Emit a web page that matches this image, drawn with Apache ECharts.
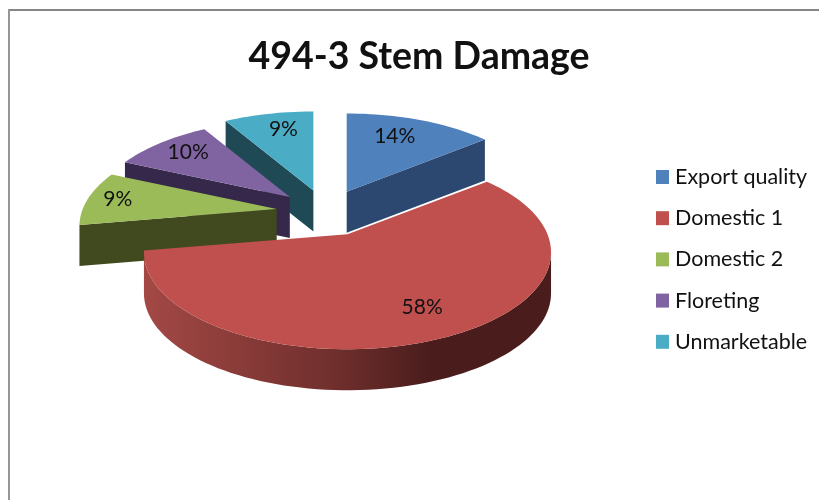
<!DOCTYPE html>
<html>
<head>
<meta charset="utf-8">
<style>
  html, body { margin: 0; padding: 0; background: #fff; }
  #chart { width: 819px; height: 500px; }
</style>
<script src="https://cdn.jsdelivr.net/npm/echarts@6/dist/echarts.min.js"></script>
</head>
<body>
<div id="chart"></div>
<script>
var categories = ['Export quality', 'Domestic 1', 'Domestic 2', 'Floreting', 'Unmarketable'];
var shares = [14.2, 58.1, 9.4, 9.8, 8.5];

// styles, one per slice
var topColors = ['#4F81BD', '#C0504D', '#9BBB59', '#8064A2', '#4BACC6'];
var sideColors = ['#2C4770', '#4A1D1C', '#41491F', '#36284A', '#1F4A55'];
var drawOrder = [3, 5, 2, 1, 0]; // slice z: back slices first
var rimScale = [0.99, 1, 0.97, 0.97, 1];
var labelRadius = [0.7, 0.75, 0.8, 0.72, 0.68];
var labelShift = [[-6, 0], [4, 3], [-3, 2], [-3, 0], [2, -3]];

// pie layout, perspective fit to the picture
var centerX = 326, centerY = 212;
var radiusX = 200, radiusY = 93.6, tilt = 0.186, depth = 41, explode = 0.25;

function project(u, v) {
    var s = 1 / (1 + tilt * v);
    return [radiusX * u * s, -radiusY * v * s];
}
function polar(r, deg) {
    var a = deg * Math.PI / 180;
    return project(r * Math.sin(a), r * Math.cos(a));
}

var redSide = new echarts.graphic.LinearGradient(145, 0, 551, 0, [
    { offset: 0, color: '#A34845' },
    { offset: 0.48, color: '#6E2E2C' },
    { offset: 0.7, color: '#4A1D1C' },
    { offset: 1, color: '#4A1D1C' }
], true);

var total = shares.reduce(function (a, b) { return a + b; }, 0);

function sliceRenderer(index) {
    return function (params, api) {
        var before = 0;
        for (var i = 0; i < index; i++) before += shares[i];
        var start = before / total * 360;
        var end = (before + api.value(0)) / total * 360;
        var mid = (start + end) / 2;

        var off = polar(explode, mid);
        var ax = centerX + off[0], ay = centerY + off[1];
        var outline = [[ax, ay]];
        for (var d = start; d < end; d += 2) {
            var p = polar(rimScale[index], d);
            outline.push([ax + p[0], ay + p[1]]);
        }
        var e = polar(rimScale[index], end);
        outline.push([ax + e[0], ay + e[1]]);

        // side walls: a run of boundary edges going right to left faces the viewer
        var children = [];
        var run = [];
        function flush() {
            if (run.length > 1) {
                var low = run.map(function (q) { return [q[0], q[1] + depth]; }).reverse();
                children.push({
                    type: 'polygon',
                    shape: { points: run.concat(low) },
                    style: { fill: index === 1 ? redSide : sideColors[index] }
                });
            }
            run = [];
        }
        for (var j = 0; j < outline.length; j++) {
            var p1 = outline[j], p2 = outline[(j + 1) % outline.length];
            if (p2[0] < p1[0]) {
                if (!run.length) run.push(p1);
                run.push(p2);
            } else {
                flush();
            }
        }
        flush();

        children.push({
            type: 'polygon',
            shape: { points: outline },
            style: { fill: topColors[index] }
        });
        var l = polar(labelRadius[index], mid);
        children.push({
            type: 'text',
            style: {
                text: Math.round(api.value(0)) + '%',
                x: ax + l[0] + labelShift[index][0], y: ay + l[1] - 3 + labelShift[index][1],
                align: 'center', verticalAlign: 'middle',
                font: '21px Lato',
                fill: '#111'
            }
        });
        return { type: 'group', children: children };
    };
}

var series = categories.map(function (name, i) {
    return {
        name: name,
        type: 'custom',
        coordinateSystem: 'none',
        z: drawOrder[i] + 2,
        itemStyle: { color: topColors[i] },
        renderItem: sliceRenderer(i),
        data: [[shares[i]]]
    };
});

var myChart = echarts.init(document.getElementById('chart'), null, { renderer: 'canvas' });
myChart.setOption({
    animation: false,
    backgroundColor: '#fff',
    title: {
        text: '494-3 Stem Damage',
        left: 414,
        textAlign: 'center',
        top: 33,
        textStyle: { fontFamily: 'Lato', fontSize: 37.5, fontWeight: 'bold', color: '#111' }
    },
    legend: {
        data: categories,
        orient: 'vertical',
        left: 651,
        top: 161,
        icon: 'rect',
        itemWidth: 13,
        itemHeight: 14,
        itemGap: 19.2,
        textStyle: { fontFamily: 'Lato', fontSize: 21.5, color: '#111', padding: [0, 0, 0, 1] }
    },
    graphic: [
        { type: 'rect', silent: true, shape: { x: 8, y: 9, width: 811, height: 2 }, style: { fill: '#868686' } },
        { type: 'rect', silent: true, shape: { x: 8, y: 9, width: 2, height: 491 }, style: { fill: '#969696' } }
    ],
    series: series
});
</script>
</body>
</html>
